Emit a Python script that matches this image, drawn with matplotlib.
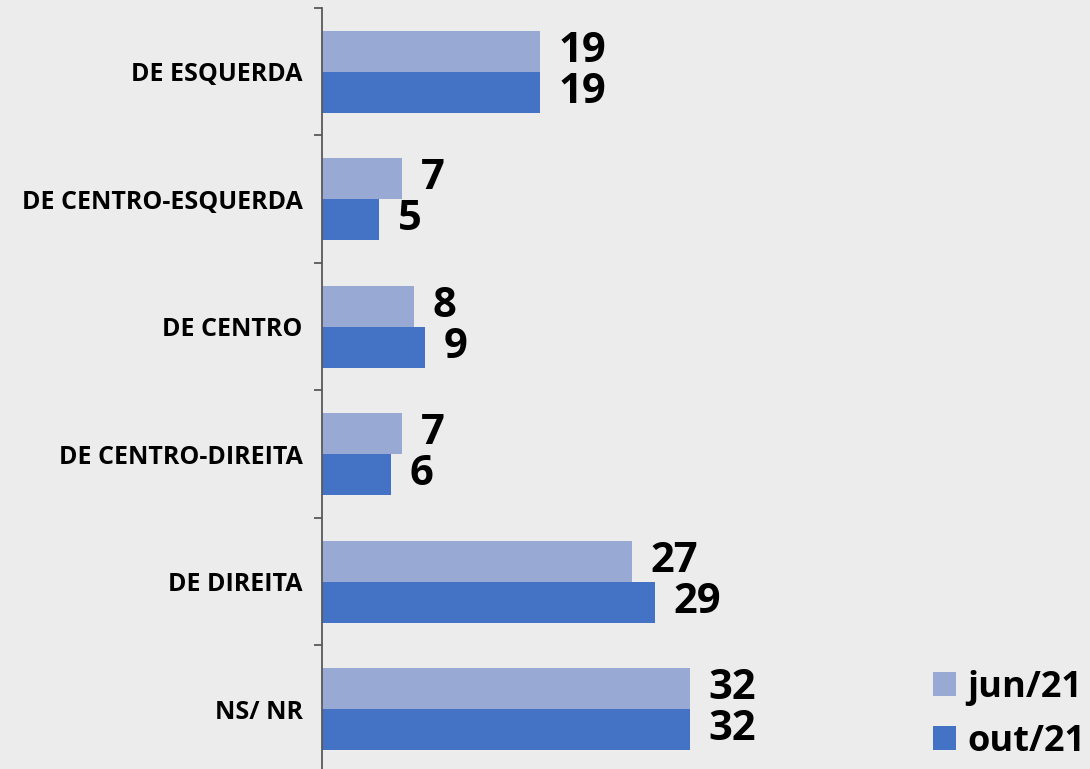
import numpy as np
import matplotlib.pyplot as plt

categorias = ['DE ESQUERDA', 'DE CENTRO-ESQUERDA', 'DE CENTRO',
              'DE CENTRO-DIREITA', 'DE DIREITA', 'NS/ NR']
jun21 = [19, 7, 8, 7, 27, 32]
out21 = [19, 5, 9, 6, 29, 32]
series = ['jun/21', 'out/21']

cor_jun = '#98A9D3'
cor_out = '#4472C4'
fundo = '#ECECEC'

fig = plt.figure(figsize=(10.9, 7.69), dpi=100, facecolor=fundo)
ax = fig.add_axes([0.2954, -0.0052, 0.5275, 0.9948], facecolor=fundo)

y = np.arange(len(categorias))
h = 0.32
b1 = ax.barh(y - h / 2, jun21, h, color=cor_jun, label=series[0])
b2 = ax.barh(y + h / 2, out21, h, color=cor_out, label=series[1])

for barras in (b1, b2):
    for b in barras:
        ax.annotate(f'{b.get_width():g}',
                    (b.get_width(), b.get_y() + b.get_height() / 2),
                    xytext=(13, 0), textcoords='offset points',
                    ha='left', va='center', fontsize=30,
                    fontweight='bold', family='Open Sans')

ax.set_xlim(0, 50)
ax.set_ylim(len(categorias) - 0.5, -0.5)
ax.set_yticks(y)
ax.set_yticklabels(categorias, fontsize=18, fontweight='bold', family='Open Sans')
ax.tick_params(axis='y', which='major', length=0, pad=14)
ax.set_yticks(np.arange(len(categorias) + 1) - 0.5, minor=True)
ax.tick_params(axis='y', which='minor', length=6, width=1.3, color='#595959')
ax.set_xticks([])
for lado in ('top', 'right', 'bottom'):
    ax.spines[lado].set_visible(False)
ax.spines['left'].set_color('#595959')
ax.spines['left'].set_linewidth(1.3)

fig.legend(handles=[b1, b2], loc='lower left', bbox_to_anchor=(0.826, -0.03),
           frameon=False, prop={'size': 26, 'weight': 'bold', 'family': 'Open Sans'},
           handlelength=0.65, handleheight=0.65, handletextpad=0.3, labelspacing=0.5)

fig.savefig('out.png', dpi=100, facecolor=fundo)
